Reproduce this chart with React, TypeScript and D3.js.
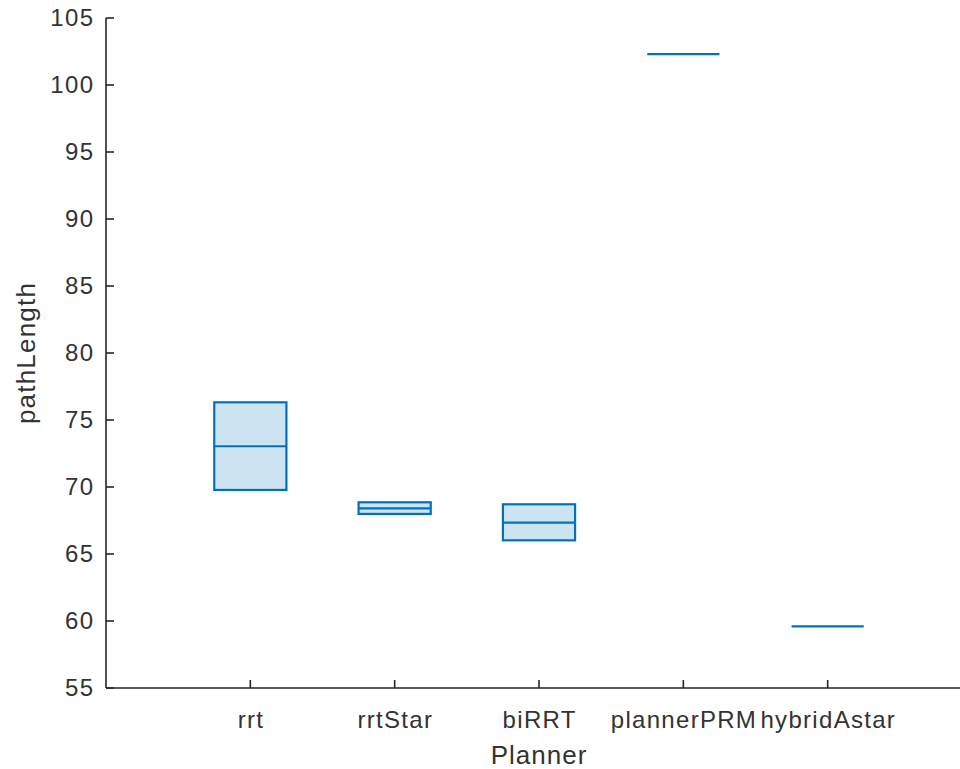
import React from "react";
import * as d3 from "d3";

const categories = ["rrt", "rrtStar", "biRRT", "plannerPRM", "hybridAstar"];
const q1Values = [69.78, 67.99, 66.02, 102.31, 59.6];
const medianValues = [73.04, 68.41, 67.34, 102.31, 59.6];
const q3Values = [76.32, 68.86, 68.71, 102.31, 59.6];
const yTicks = [55, 60, 65, 70, 75, 80, 85, 90, 95, 100, 105];

const W = 960;
const H = 769;
const left = 106;
const right = 972;
const top = 18;
const bottom = 688;
const axisColor = "#262626";
const textColor = "#333333";
const blue = "#0072BD";
const fill = "#CCE3F2";
const font = "'Liberation Sans', Arial, Helvetica, sans-serif";
const ls = 1.3;

export default function App() {
  const x = d3.scaleLinear().domain([0, 6]).range([left, right]);
  const y = d3.scaleLinear().domain([55, 105]).range([bottom, top]);
  const bw = (x(1) - x(0)) * 0.5;

  return (
    <svg width={W} height={H} style={{ position: "absolute", left: 0, top: 0, background: "#fff" }}>
      <rect x={0} y={0} width={W} height={H} fill="#fff" />
      {categories.map((c, i) => {
        const cx = x(i + 1);
        const a = y(q3Values[i]);
        const b = y(q1Values[i]);
        const m = y(medianValues[i]);
        return (
          <g key={c}>
            {b - a > 0.5 && (
              <rect x={cx - bw / 2} y={a} width={bw} height={b - a} fill={fill} stroke={blue} strokeWidth={2.2} />
            )}
            <line x1={cx - bw / 2} x2={cx + bw / 2} y1={m} y2={m} stroke={blue} strokeWidth={2.2} />
          </g>
        );
      })}
      {/* axes */}
      <line x1={left} x2={left} y1={top} y2={bottom} stroke={axisColor} strokeWidth={1.6} />
      <line x1={left} x2={right} y1={bottom} y2={bottom} stroke={axisColor} strokeWidth={1.6} />
      {yTicks.map((t) => (
        <g key={t}>
          <line x1={left} x2={left + 8} y1={y(t)} y2={y(t)} stroke={axisColor} strokeWidth={1.6} />
          <text x={93 + ls} y={y(t)} dy="0.35em" textAnchor="end" fontFamily={font} fontSize={24} letterSpacing={ls} fill={textColor}>
            {t}
          </text>
        </g>
      ))}
      {categories.map((c, i) => (
        <g key={c}>
          <line x1={x(i + 1)} x2={x(i + 1)} y1={bottom} y2={bottom - 8} stroke={axisColor} strokeWidth={1.6} />
          <text x={x(i + 1) + ls / 2} y={728} textAnchor="middle" fontFamily={font} fontSize={24} letterSpacing={ls} fill={textColor}>
            {c}
          </text>
        </g>
      ))}
      <text x={(left + right) / 2} y={764} textAnchor="middle" fontFamily={font} fontSize={26} letterSpacing={1} fill={textColor}>
        Planner
      </text>
      <text
        transform={`translate(35, ${(top + bottom) / 2}) rotate(-90)`}
        textAnchor="middle"
        fontFamily={font}
        fontSize={26}
        letterSpacing={1.2}
        fill={textColor}
      >
        pathLength
      </text>
    </svg>
  );
}
